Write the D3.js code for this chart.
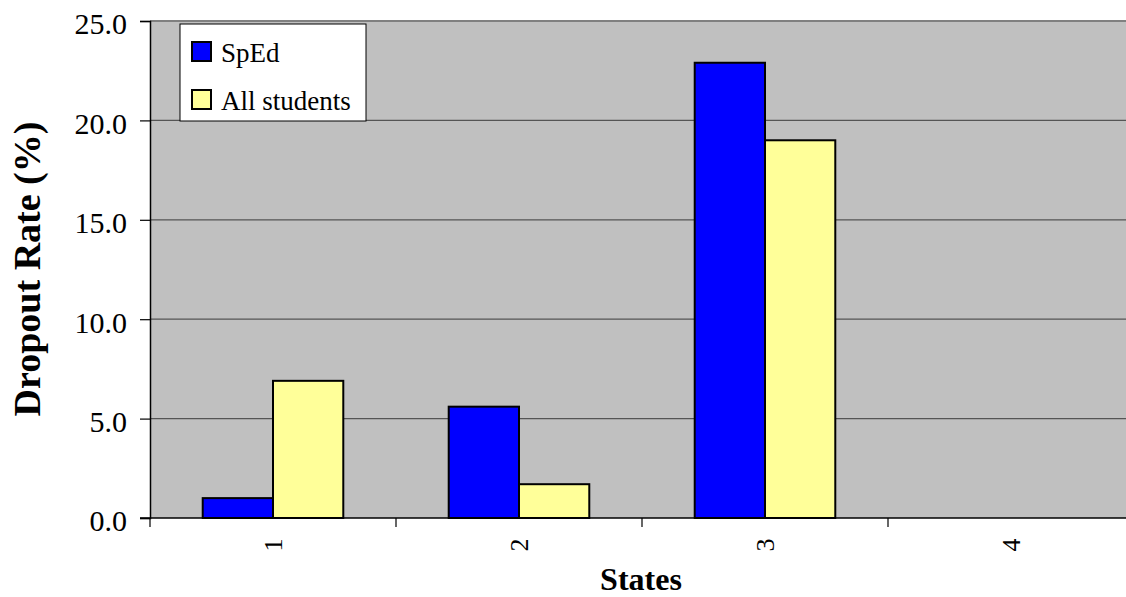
<!DOCTYPE html>
<html>
<head>
<meta charset="utf-8">
<script src="https://cdn.jsdelivr.net/npm/d3@7"></script>
<style>
  html, body { margin: 0; padding: 0; background: #ffffff; }
  svg { display: block; }
  svg text { font-family: "Liberation Serif", "Times New Roman", Times, serif !important; fill: #000; }
</style>
</head>
<body>
<svg id="chart" width="1126" height="597" font-family="Liberation Serif, Times New Roman, serif"></svg>
<script>
// Dropout rate by state, special education vs. all students
const states = ["1", "2", "3", "4"];
const seriesNames = ["SpEd", "All students"];
const spedRates = [1.0, 5.6, 22.9, null];
const allStudentRates = [6.9, 1.7, 19.0, null];
const yTicks = [0, 5, 10, 15, 20, 25];
const seriesColors = ["#0000ff", "#ffff99"];

const SERIF = "'Liberation Serif', 'Times New Roman', Times, serif";
const svg = d3.select("#chart");
const plot = { left: 150, top: 21, right: 1134, bottom: 518 };

const x = d3.scaleBand().domain(states).range([plot.left, plot.right]).padding(0);
// each bar is band / 3.5 wide (150% gap between groups)
const barW = x.bandwidth() / 3.5;
const xSeries = d3.scaleBand().domain(seriesNames)
  .range([(x.bandwidth() - 2 * barW) / 2, (x.bandwidth() + 2 * barW) / 2]).padding(0);
const y = d3.scaleLinear().domain([0, 25]).range([plot.bottom, plot.top]);

// plot background
svg.append("rect")
  .attr("x", plot.left).attr("y", plot.top)
  .attr("width", plot.right - plot.left).attr("height", plot.bottom - plot.top)
  .attr("fill", "#c0c0c0");

// top border
svg.append("line")
  .attr("x1", plot.left).attr("x2", plot.right)
  .attr("y1", y(25)).attr("y2", y(25))
  .attr("stroke", "#808080").attr("stroke-width", 2);

// horizontal gridlines
svg.append("g").selectAll("line")
  .data(yTicks.filter(d => d > 0 && d < 25))
  .join("line")
  .attr("x1", plot.left).attr("x2", plot.right)
  .attr("y1", d => y(d)).attr("y2", d => y(d))
  .attr("stroke", "#555555").attr("stroke-width", 1.2);

// bars
const rows = states.map((s, i) => ({ state: s, values: [spedRates[i], allStudentRates[i]] }));
const groups = svg.append("g").selectAll("g")
  .data(rows).join("g")
  .attr("transform", d => `translate(${x(d.state)},0)`);
groups.selectAll("rect")
  .data(d => d.values.map((v, j) => ({ name: seriesNames[j], value: v, color: seriesColors[j] }))
    .filter(e => e.value != null))
  .join("rect")
  .attr("x", d => xSeries(d.name))
  .attr("width", xSeries.bandwidth())
  .attr("y", d => y(d.value))
  .attr("height", d => y(0) - y(d.value))
  .attr("fill", d => d.color)
  .attr("stroke", "#000").attr("stroke-width", 2);

// y axis
const yAxis = svg.append("g")
  .attr("transform", `translate(${plot.left},0)`)
  .call(d3.axisLeft(y).tickValues(yTicks).tickFormat(d3.format(".1f")).tickSize(10).tickPadding(13));
yAxis.attr("font-family", null).attr("font-size", null);
yAxis.select(".domain").attr("stroke", "#000").attr("stroke-width", 1.5);
yAxis.selectAll(".tick line").attr("stroke", "#000").attr("stroke-width", 1.2);
yAxis.selectAll(".tick text")
  .style("font-family", SERIF).style("font-size", "30px")
  .attr("dy", "0.43em").attr("fill", "#000");

// x axis
const xAxis = svg.append("g")
  .attr("transform", `translate(0,${plot.bottom})`)
  .call(d3.axisBottom(x).tickValues([]).tickSizeOuter(0));
xAxis.select(".domain").attr("stroke", "#000").attr("stroke-width", 1.5)
  .attr("d", `M${plot.left - 10},0H${plot.right}`);
svg.append("g").selectAll("line")
  .data(states.concat(["end"]))
  .join("line")
  .attr("x1", (d, i) => plot.left + i * x.step()).attr("x2", (d, i) => plot.left + i * x.step())
  .attr("y1", plot.bottom).attr("y2", plot.bottom + 9)
  .attr("stroke", "#000").attr("stroke-width", 1.2);
svg.append("g").selectAll("text")
  .data(states).join("text")
  .attr("transform", d => `translate(${x(d) + x.bandwidth() / 2},545) rotate(-90)`)
  .attr("text-anchor", "middle").attr("dy", "0.35em")
  .style("font-family", SERIF).style("font-size", "26px")
  .text(d => d);

// axis titles
svg.append("text")
  .attr("x", 641).attr("y", 590)
  .attr("text-anchor", "middle")
  .style("font-family", SERIF).style("font-size", "32px").style("font-weight", "bold")
  .text("States");
svg.append("text")
  .attr("transform", "translate(40,269) rotate(-90)")
  .attr("text-anchor", "middle")
  .style("font-family", SERIF).style("font-size", "38px").style("font-weight", "bold")
  .text("Dropout Rate (%)");

// legend
const legend = svg.append("g").attr("transform", "translate(180,24)");
legend.append("rect")
  .attr("x", 0).attr("y", 0).attr("width", 186).attr("height", 97)
  .attr("fill", "#fff").attr("stroke", "#000").attr("stroke-width", 1);
const items = legend.selectAll("g.item")
  .data(seriesNames).join("g").attr("class", "item")
  .attr("transform", (d, i) => `translate(12,${18 + i * 48})`);
items.append("rect")
  .attr("width", 19).attr("height", 19)
  .attr("fill", (d, i) => seriesColors[i]).attr("stroke", "#000").attr("stroke-width", 2);
items.append("text")
  .attr("x", 29).attr("y", 20)
  .style("font-family", SERIF).style("font-size", "27px")
  .text(d => d);
</script>
</body>
</html>
